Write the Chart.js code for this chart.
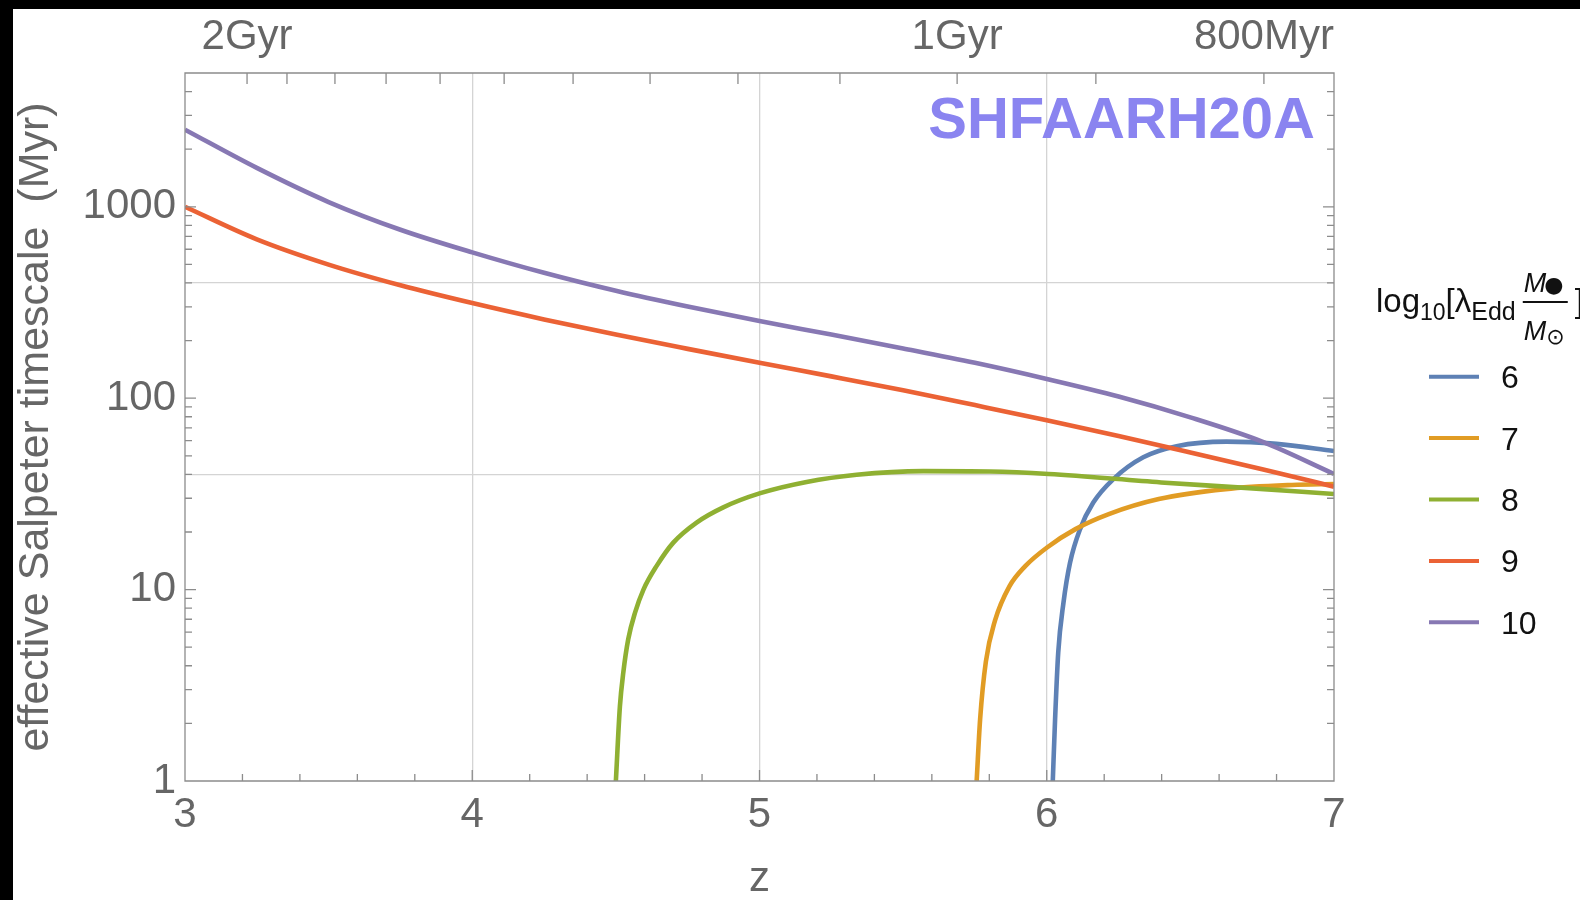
<!DOCTYPE html>
<html>
<head>
<meta charset="utf-8">
<script src="https://cdn.jsdelivr.net/npm/chart.js@4.4.1/dist/chart.umd.min.js"></script>
<style>
  html, body { margin: 0; padding: 0; background: #000; }
  #frame { position: absolute; left: 0; top: 0; width: 1580px; height: 900px; background: #000; overflow: hidden; }
  #paper { position: absolute; left: 13px; top: 9px; width: 1567px; height: 891px; background: #fff; }
</style>
</head>
<body>
<div id="frame"><div id="paper"><canvas id="c"></canvas></div></div>
<script>
// Effective Salpeter timescale (Myr) versus redshift z, one curve per log10[λEdd M•/M⊙]
const z6  = [6.021, 6.029, 6.040, 6.058, 6.081, 6.116, 6.162, 6.232, 6.336, 6.452, 6.626, 6.800, 7.0];
const t6  = [1.0, 2.1, 4.7, 8.5, 13.8, 20.7, 28.5, 37.8, 49.1, 56.1, 59.3, 57.7, 53.0];

const z7  = [5.756, 5.768, 5.788, 5.820, 5.870, 5.926, 6.001, 6.100, 6.216, 6.390, 6.622, 6.854, 7.0];
const t7  = [1.0, 2.1, 4.2, 6.9, 10.4, 13.3, 16.6, 20.7, 24.8, 29.7, 33.5, 35.2, 35.6];

const z8  = [4.500, 4.514, 4.526, 4.543, 4.567, 4.596, 4.642, 4.700, 4.781, 4.874, 5.000, 5.164, 5.338, 5.570, 5.802, 6.006, 6.398, 6.664, 7.0];
const t8  = [1.0, 2.45, 3.7, 5.5, 7.6, 10.0, 13.3, 17.6, 22.4, 26.9, 31.8, 36.5, 39.8, 41.6, 41.4, 40.2, 36.3, 34.2, 31.6];

const z9  = [3.0, 3.25, 3.5, 3.75, 4.0, 4.25, 4.5, 4.75, 5.0, 5.25, 5.5, 5.75, 6.0, 6.25, 6.5, 6.75, 7.0];
const t9  = [1000, 676, 499, 389, 314, 258, 215, 181, 153, 130, 110, 92, 76.7, 63.4, 52, 42.5, 34.5];

const z10 = [3.0, 3.25, 3.5, 3.75, 4.0, 4.25, 4.5, 4.75, 5.0, 5.25, 5.5, 5.75, 6.0, 6.25, 6.5, 6.75, 7.0];
const t10 = [2529, 1596, 1059, 759, 578, 452, 364, 301, 253, 215, 182, 153, 126, 102, 79.4, 59.3, 40.2];

const seriesLabels = ['6', '7', '8', '9', '10'];
const seriesColors = ['#5e81b5', '#e19c24', '#8fb032', '#eb6235', '#8778b3'];

// axis ticks
const xTicks = [3, 4, 5, 6, 7];
const xGridValues = [4, 5, 6];
const xMinorStep = 0.2;
const yTicks = [1, 10, 40, 100, 400, 1000];
const yLabelled = [1, 10, 100, 1000];
const yGridValues = [40, 400];
// cosmic age ticks along the top edge (redshift of each age, 2.0 Gyr ... 0.8 Gyr)
const ageTickZ = [3.216, 3.355, 3.522, 3.700, 3.888, 4.111, 4.351, 4.619, 4.925, 5.280, 5.688, 6.171, 6.756];
const ageTickLabels = ['2Gyr', '', '', '', '', '', '', '', '', '', '1Gyr', '', '800Myr'];

const runLabel = 'SHFAARH20A';

const FONT = '"Liberation Sans", Arial, Helvetica, sans-serif';
const LABEL_GRAY = '#666666';
const FRAME_GRAY = '#8c8c8c';
const GRID_GRAY = '#d4d4d4';

const zs = [z6, z7, z8, z9, z10];
const ts = [t6, t7, t8, t9, t10];
const datasets = seriesLabels.map((lab, i) => ({
  label: lab,
  data: zs[i].map((z, k) => ({ x: z, y: ts[i][k] })),
  borderColor: seriesColors[i],
  backgroundColor: seriesColors[i],
  borderWidth: 4.6,
  pointRadius: 0,
  fill: false,
  cubicInterpolationMode: 'monotone',
  order: seriesLabels.length - i
}));

// frame with inward tick marks on all four sides
const frameTicks = {
  id: 'frameTicks',
  afterDatasetsDraw(chart) {
    const { ctx, chartArea: a, scales } = chart;
    const x = scales.x, y = scales.y;
    const MAJOR = 11, MINOR = 7;
    ctx.save();
    ctx.strokeStyle = FRAME_GRAY;
    ctx.lineWidth = 1.3;
    ctx.beginPath();
    ctx.rect(a.left, a.top, a.right - a.left, a.bottom - a.top);
    for (let d = 1; d <= 1000; d *= 10) {
      for (let m = 1; m <= 9; m++) {
        const v = d * m;
        if (v > y.max) break;
        const py = y.getPixelForValue(v);
        const len = m === 1 ? MAJOR : MINOR;
        ctx.moveTo(a.left, py); ctx.lineTo(a.left + len, py);
        ctx.moveTo(a.right, py); ctx.lineTo(a.right - len, py);
      }
    }
    const n = Math.round((x.max - x.min) / xMinorStep);
    for (let i = 0; i <= n; i++) {
      const v = x.min + i * xMinorStep;
      const px = x.getPixelForValue(v);
      const len = (i % 5 === 0) ? MAJOR : MINOR;
      ctx.moveTo(px, a.bottom); ctx.lineTo(px, a.bottom - len);
    }
    for (const zt of ageTickZ) {
      const px = x.getPixelForValue(zt);
      ctx.moveTo(px, a.top); ctx.lineTo(px, a.top + MAJOR);
    }
    ctx.stroke();
    ctx.restore();
  }
};

// run name, legend title and legend entries
const annotations = {
  id: 'annotations',
  afterDraw(chart) {
    const { ctx, chartArea: a } = chart;
    ctx.save();
    ctx.fillStyle = '#8a84f0';
    ctx.font = 'bold 58px ' + FONT;
    ctx.textAlign = 'right';
    ctx.textBaseline = 'alphabetic';
    ctx.fillText(runLabel, a.right - 19, a.top + 65);

    // legend title: log10[λEdd M•/M⊙]
    ctx.fillStyle = '#111';
    ctx.textAlign = 'left';
    let px = 1363;
    const base = 303;
    const put = (txt, size, dy, style) => {
      ctx.font = (style || '') + ' ' + size + 'px ' + FONT;
      ctx.fillText(txt, px, base + dy);
      px += ctx.measureText(txt).width;
    };
    put('log', 33, 0);
    put('10', 23, 8);
    put('[', 33, 0);
    put('λ', 33, 0);
    put('Edd', 25, 8);
    px += 7;
    const fracL = px;
    ctx.font = 'italic 27px ' + FONT;
    ctx.fillText('M', fracL + 1, base - 20);
    const wM = ctx.measureText('M').width;
    ctx.font = '22px "DejaVu Sans", ' + FONT;
    ctx.fillText('●', fracL + wM - 1, base - 20);
    ctx.font = 'italic 27px ' + FONT;
    ctx.fillText('M', fracL + 1, base + 28);
    ctx.font = '22px "DejaVu Sans", ' + FONT;
    ctx.fillText('⊙', fracL + wM + 1, base + 32);
    ctx.strokeStyle = '#111';
    ctx.lineWidth = 1.8;
    ctx.beginPath();
    ctx.moveTo(fracL, base - 10); ctx.lineTo(fracL + 45, base - 10);
    ctx.stroke();
    px = fracL + 52;
    put(']', 33, 0);

    // legend entries
    const x0 = 1416, x1 = 1466, tx = 1488, y0 = 367.7, dy = 61.4;
    chart.data.datasets.forEach((ds, i) => {
      const yy = y0 + i * dy;
      ctx.strokeStyle = ds.borderColor;
      ctx.lineWidth = 4;
      ctx.beginPath();
      ctx.moveTo(x0, yy); ctx.lineTo(x1, yy);
      ctx.stroke();
      ctx.fillStyle = '#111';
      ctx.font = '32px ' + FONT;
      ctx.fillText(ds.label, tx, yy + 11.5);
    });
    ctx.restore();
  }
};

new Chart(document.getElementById('c'), {
  type: 'line',
  data: { datasets },
  options: {
    responsive: true,
    maintainAspectRatio: false,
    animation: false,
    layout: { padding: { left: 0, right: 246, top: 0, bottom: 0 } },
    plugins: { legend: { display: false }, tooltip: { enabled: false } },
    scales: {
      x: {
        type: 'linear', position: 'bottom', min: 3, max: 7,
        afterBuildTicks: s => { s.ticks = xTicks.map(v => ({ value: v })); },
        ticks: { autoSkip: false, maxRotation: 0, padding: 9, color: LABEL_GRAY,
                 font: { family: FONT, size: 42 }, callback: v => String(v) },
        grid: { drawTicks: false, lineWidth: 1.3,
                color: c => (c.tick && xGridValues.includes(c.tick.value)) ? GRID_GRAY : 'rgba(0,0,0,0)' },
        border: { display: false },
        title: { display: true, text: 'z', color: LABEL_GRAY,
                 font: { family: FONT, size: 42, lineHeight: 1 }, padding: { top: 0, bottom: 0 } },
        afterFit: s => { s.height = 119; }
      },
      x2: {
        type: 'linear', position: 'top', min: 3, max: 7,
        afterBuildTicks: s => { s.ticks = ageTickZ.map(v => ({ value: v })); },
        ticks: { autoSkip: false, maxRotation: 0, padding: 10, color: LABEL_GRAY,
                 font: { family: FONT, size: 42 }, callback: (v, i) => ageTickLabels[i] },
        grid: { display: false, drawTicks: false },
        border: { display: false },
        afterFit: s => { s.height = 64; }
      },
      y: {
        type: 'logarithmic', position: 'left', min: 1, max: 5000,
        afterBuildTicks: s => { s.ticks = yTicks.map(v => ({ value: v })); },
        ticks: { autoSkip: false, padding: 9, color: LABEL_GRAY,
                 font: { family: FONT, size: 42 },
                 callback: v => yLabelled.includes(v) ? String(v) : '' },
        grid: { drawTicks: false, lineWidth: 1.3,
                color: c => (c.tick && yGridValues.includes(c.tick.value)) ? GRID_GRAY : 'rgba(0,0,0,0)' },
        border: { display: false },
        title: { display: true, text: 'effective Salpeter timescale  (Myr)', color: LABEL_GRAY,
                 font: { family: FONT, size: 43, lineHeight: 1 }, padding: { top: 2, bottom: 0 } },
        afterFit: s => { s.width = 172; }
      }
    }
  },
  plugins: [frameTicks, annotations]
});
</script>
</body>
</html>
